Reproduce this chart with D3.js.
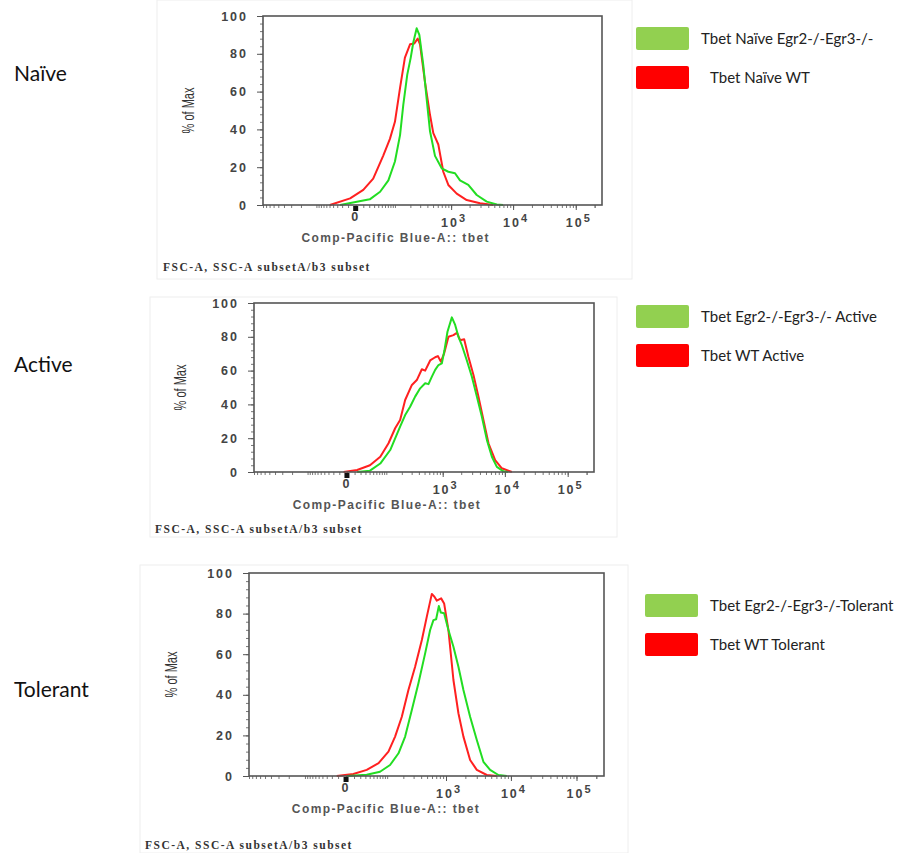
<!DOCTYPE html>
<html><head><meta charset="utf-8">
<script src="https://cdn.jsdelivr.net/npm/d3@7"></script>
<style>
html,body{margin:0;padding:0;background:#fff;}
svg{display:block;}
</style></head>
<body>
<svg id="chart" width="905" height="853"></svg>
<script>
// ---------------- DATA ----------------
const rowLabels = ["Naïve", "Active", "Tolerant"];
const koLegend = ["Tbet Naïve Egr2-/-Egr3-/-", "Tbet Egr2-/-Egr3-/- Active", "Tbet Egr2-/-Egr3-/-Tolerant"];
const wtLegend = ["Tbet Naïve WT", "Tbet WT Active", "Tbet WT Tolerant"];
const yTickValues = [0, 20, 40, 60, 80, 100];
const xTickLabels = [["0", ""], ["10", "3"], ["10", "4"], ["10", "5"]];
const xTickValues = [0, 1000, 10000, 100000];
const xDomain = [-900, 262144];
const axisTitle = "Comp-Pacific Blue-A:: tbet";
const yTitle = "% of Max";
const footer = "FSC-A, SSC-A subsetA/b3 subset";

// [intensity, % of max]
const naiveKo = [[-24,0],[21,3],[45,7],[72,13],[100,23],[127,37],[147,53],[175,69],[203,78],[226,86],[260,93.5],[290,90],[340,74],[389,56],[444,39],[539,26],[698,19.4],[899,17.6],[1158,16.8],[1397,13],[1906,10.6],[2607,5.3],[3776,1.8],[5468,0.3],[6897,0]];
const naiveWt = [[-49,0],[-7,3.5],[10,8],[28,14],[54,26],[78,35],[100,44],[127,62],[158,78],[197,85],[236,85.5],[271,88],[298,85],[364,65],[444,47.6],[505,38],[613,32],[742,17.6],[899,10.6],[1234,6],[1795,2.6],[2945,0.9],[4820,0]];
const activeKo = [[14,0],[41,0.8],[74,5],[120,13],[186,26.8],[230,33.7],[282,38.6],[345,44.6],[421,49.5],[512,52.5],[582,52],[663,56.4],[752,60.4],[853,63.3],[969,64.3],[1069,72],[1197,83],[1411,91.5],[1597,87],[1806,80],[2049,75],[2467,66],[2970,56.4],[3572,44.6],[4296,32.7],[5166,19],[6210,9],[7457,3],[9505,0.4],[11296,0]];
const activeWt = [[-4,0],[14,1.2],[41,4],[74,9],[111,17],[150,25.9],[186,30.8],[230,42.6],[303,51.5],[369,54.4],[450,60.8],[512,60],[621,66],[752,67.9],[833,68.6],[933,65.3],[1057,70.2],[1243,80],[1498,81],[1702,82.4],[1924,78],[2232,78.5],[2617,68],[3150,57.4],[3788,44.6],[4554,30.8],[5478,17],[7006,7],[8960,2.2],[12937,0]];
const tolerantKo = [[1,0],[33,0.6],[71,2.1],[114,5.4],[164,11.2],[215,19.4],[280,32.5],[361,45.7],[465,60.4],[560,71.9],[632,76.8],[698,77.2],[770,83.7],[829,80.5],[934,80.2],[1091,71.9],[1306,63.7],[1562,53.8],[1867,42.4],[2369,29.2],[3004,17.7],[3795,7],[4808,3],[6439,0.5],[8659,0]];
const tolerantWt = [[-12,0],[9,1],[33,3],[66,6.3],[106,12],[142,19.4],[188,29.2],[245,42.4],[318,53.8],[411,67],[495,78.5],[596,89.7],[656,88.3],[716,86.4],[838,87.5],[934,85],[1091,71.9],[1306,47.3],[1562,30.9],[1867,19.4],[2369,7.9],[3004,3],[4278,0.5],[6083,0]];
const koSeries = [naiveKo, activeKo, tolerantKo];
const wtSeries = [naiveWt, activeWt, tolerantWt];

// ---------------- LAYOUT ----------------
const layout = [
  {L:263, T:16, R:602, B:205, frame:[157,0,632,279], footX:163, footY:271, yTitleX:190, rowY:81, legX:636, legY:27, wtTextDx:74},
  {L:254, T:303, R:594, B:472, frame:[150,297,617,537], footX:155, footY:533, yTitleX:182, rowY:372, legX:636, legY:305, wtTextDx:65},
  {L:249, T:573, R:604, B:776, frame:[140,565,628,853], footX:145, footY:849, yTitleX:173, rowY:697, legX:645, legY:594, wtTextDx:65}
];
const koColor = "#22dd22", wtColor = "#ff2020";
const legGreen = "#92d050", legRed = "#ff0000";
const axisFont = "Liberation Sans, Arial, sans-serif";

const svg = d3.select("#chart");

function minorTicks() {
  const t = [];
  for (let k = 1; k <= 5; k++) {
    for (let m = 1; m <= 9; m++) {
      const v = m * Math.pow(10, k);
      if (v <= xDomain[1]) t.push(v);
      if (-v >= xDomain[0]) t.push(-v);
    }
  }
  t.push(200000);
  return t;
}

layout.forEach((p, i) => {
  const g = svg.append("g");
  g.append("rect").attr("x", p.frame[0]).attr("y", p.frame[1])
    .attr("width", p.frame[2] - p.frame[0]).attr("height", p.frame[3] - p.frame[1])
    .attr("fill", "none").attr("stroke", "#eeeeee").attr("stroke-width", 1);

  const x = d3.scaleSymlog().constant(31).domain(xDomain).range([p.L, p.R]);
  const y = d3.scaleLinear().domain([0, 100]).range([p.B, p.T]);

  g.append("g").attr("transform", `translate(${p.L},0)`)
    .call(d3.axisLeft(y).tickValues(d3.range(0, 101, 4)).tickSize(3).tickFormat(""))
    .call(a => a.select(".domain").remove())
    .call(a => a.selectAll("line").attr("stroke", "#777"));
  g.append("g").attr("transform", `translate(${p.L},0)`)
    .call(d3.axisLeft(y).tickValues(yTickValues).tickSize(6).tickPadding(9).tickFormat(d3.format("d")))
    .call(a => a.select(".domain").remove())
    .call(a => a.selectAll("line").attr("stroke", "#555"))
    .call(a => a.selectAll("text").attr("font-family", axisFont)
      .attr("font-size", 12.5).attr("font-weight", "bold").attr("fill", "#444").attr("letter-spacing", "2px"));

  g.append("g").attr("transform", `translate(0,${p.B})`)
    .call(d3.axisBottom(x).tickValues(minorTicks()).tickSize(3).tickFormat(""))
    .call(a => a.select(".domain").remove())
    .call(a => a.selectAll("line").attr("stroke", "#777"));
  g.append("g").attr("transform", `translate(0,${p.B})`)
    .call(d3.axisBottom(x).tickValues(xTickValues).tickSize(5).tickFormat(""))
    .call(a => a.select(".domain").remove())
    .call(a => a.selectAll("line").attr("stroke", "#555"));
  g.append("rect").attr("x", x(0) - 2.5).attr("y", p.B + 1).attr("width", 5).attr("height", 5).attr("fill", "#111");

  xTickValues.forEach((v, j) => {
    const lab = xTickLabels[j];
    const t = g.append("text").attr("x", x(v) + (j === 0 ? 0 : 3)).attr("y", p.B + (j === 0 ? 16 : 22))
      .attr("text-anchor", "middle").attr("font-family", axisFont)
      .attr("font-size", 12.5).attr("font-weight", "bold").attr("fill", "#444").attr("letter-spacing", "2px");
    t.append("tspan").text(lab[0]);
    if (lab[1]) t.append("tspan").attr("dy", -5).attr("font-size", 11).text(lab[1]);
  });

  const line = d3.line().x(d => x(d[0])).y(d => y(d[1])).curve(d3.curveLinear);
  g.append("path").datum(wtSeries[i]).attr("d", line).attr("fill", "none")
    .attr("stroke", wtColor).attr("stroke-width", 2).attr("stroke-linejoin", "round");
  g.append("path").datum(koSeries[i]).attr("d", line).attr("fill", "none")
    .attr("stroke", koColor).attr("stroke-width", 2).attr("stroke-linejoin", "round");

  g.append("rect").attr("x", p.L).attr("y", p.T).attr("width", p.R - p.L).attr("height", p.B - p.T)
    .attr("fill", "none").attr("stroke", "#555").attr("stroke-width", 1.6);

  g.append("text").attr("x", x(0) + 40).attr("y", p.B + 37).attr("text-anchor", "middle")
    .attr("font-family", axisFont).attr("font-size", 12).attr("font-weight", "bold")
    .attr("fill", "#555").attr("letter-spacing", "1.4px").text(axisTitle);
  g.append("text")
    .attr("transform", `translate(${p.yTitleX},${(p.T + p.B) / 2}) rotate(-90) scale(0.85,1.25)`)
    .attr("text-anchor", "middle").attr("dominant-baseline", "middle")
    .attr("font-family", "Liberation Sans Narrow, Liberation Sans, Arial, sans-serif").attr("font-size", 13)
    .attr("fill", "#333").text(yTitle);
  g.append("text").attr("x", p.footX).attr("y", p.footY)
    .attr("font-family", "Liberation Serif, Times New Roman, serif").attr("font-size", 11.5).attr("font-weight", "bold")
    .attr("fill", "#333").attr("letter-spacing", "1.5px").text(footer);

  svg.append("text").attr("x", 14).attr("y", p.rowY).attr("font-family", "Lato, Open Sans, sans-serif")
    .attr("font-size", 21).attr("fill", "#111").text(rowLabels[i]);

  const lg = svg.append("g");
  lg.append("rect").attr("x", p.legX).attr("y", p.legY).attr("width", 53).attr("height", 23).attr("rx", 2)
    .attr("fill", legGreen);
  lg.append("rect").attr("x", p.legX).attr("y", p.legY + 39).attr("width", 53).attr("height", 23).attr("rx", 2)
    .attr("fill", legRed);
  lg.append("text").attr("x", p.legX + 65).attr("y", p.legY + 17).attr("font-family", "Lato, Open Sans, sans-serif")
    .attr("font-size", 15).attr("fill", "#222").text(koLegend[i]);
  lg.append("text").attr("x", p.legX + p.wtTextDx).attr("y", p.legY + 56).attr("font-family", "Lato, Open Sans, sans-serif")
    .attr("font-size", 15).attr("fill", "#222").text(wtLegend[i]);
});
</script>
</body></html>
